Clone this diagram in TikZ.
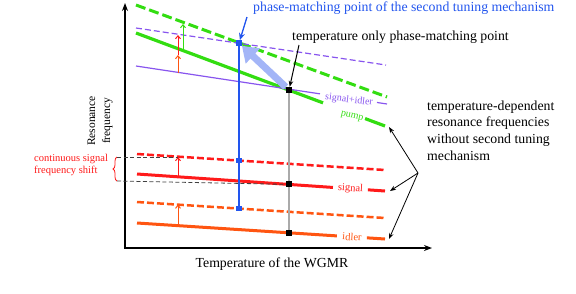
\documentclass[tikz,border=0pt]{standalone}
\usepackage{fontspec}
\setmainfont{Liberation Serif}
\usepackage{tikz}
\usetikzlibrary{arrows.meta,calc,positioning,decorations.pathreplacing}
\definecolor{pumpgreen}{HTML}{33DD11}
\definecolor{sumviolet}{HTML}{8855EE}
\definecolor{sigred}{HTML}{FF1A1A}
\definecolor{idlorange}{HTML}{FF5511}
\definecolor{pmblue}{HTML}{2255EE}
\definecolor{pmlight}{HTML}{A3B5F7}
\definecolor{tgray}{HTML}{AAAAAA}
\tikzset{
  axis/.style={line width=1.3pt,{Stealth[length=8pt,width=6pt]}-{Stealth[length=8pt,width=6pt]}},
  pumpsolid/.style={draw=pumpgreen,line width=3.2pt},
  pumpdash/.style={draw=pumpgreen,line width=3pt,dash pattern=on 10pt off 4pt},
  sumsolid/.style={draw=sumviolet,line width=1.2pt},
  sumdash/.style={draw=sumviolet,line width=1.2pt,dash pattern=on 6pt off 3pt},
  sigsolid/.style={draw=sigred,line width=3pt},
  sigdash/.style={draw=sigred,line width=2.5pt,dash pattern=on 7pt off 3pt},
  idlsolid/.style={draw=idlorange,line width=3pt},
  idldash/.style={draw=idlorange,line width=2.5pt,dash pattern=on 7pt off 3pt},
  bsq/.style={fill=pmblue,minimum size=5.5pt,inner sep=0pt},
  ksq/.style={fill=black,minimum size=6pt,inner sep=0pt},
  shiftarrow/.style={line width=1pt,-{Straight Barb[length=3pt,width=5pt]}},
  guide/.style={draw=black!75,line width=.8pt,dash pattern=on 4pt off 2.5pt},
  lbl/.style={font=\fontsize{10.5}{12.5}\selectfont,inner sep=0pt},
  txt/.style={font=\fontsize{13.8}{16.6}\selectfont,inner sep=0pt},
  note/.style={-{Stealth[length=6pt,width=4.5pt]},line width=.8pt}
}
\begin{document}
\begin{tikzpicture}[x=1pt,y=-1pt]
  \useasboundingbox (0,0) rectangle (576,293);
  % axes
  \draw[axis] (125,3) |- (432,248);
  \node[font=\fontsize{11.5}{15}\selectfont,rotate=90,align=center] (ylabel) at (100,121) {Resonance\\frequency};
  \node[txt] (xlabel) at (272,264) {Temperature of the WGMR};
  % resonance lines
  \coordinate (pumpA) at (136,33); \coordinate (pumpB) at (385,126);
  \coordinate (sumA) at (136,66); \coordinate (sumB) at (387,104);
  \coordinate (sigA) at (137,174); \coordinate (sigB) at (385,191);
  \coordinate (idlA) at (137,223); \coordinate (idlB) at (385,239);
  \draw[pumpdash] (136,5)--(387,97);
  \draw[sumdash] (136,28)--(386,65);
  \draw[sigdash] (137,154)--(385,170);
  \draw[idldash] (137,202)--(385,218);
  \draw[pumpsolid] (pumpA)--($(pumpA)!.751!(pumpB)$) ($(pumpA)!.92!(pumpB)$)--(pumpB);
  \node[lbl,text=pumpgreen,rotate=-13,font=\fontsize{10}{12}\selectfont] (pumplbl) at (352,116.5) {pump};
  \draw[sumsolid] (sumA)--($(sumA)!.733!(sumB)$) ($(sumA)!.96!(sumB)$)--(sumB);
  \node[lbl,text=sumviolet,rotate=-7,font=\fontsize{10}{12}\selectfont] (sumlbl) at (349,100) {signal+idler};
  \draw[sigsolid] (sigA)--($(sigA)!.79!(sigB)$) ($(sigA)!.931!(sigB)$)--(sigB);
  \path (sigA)--(sigB) node[lbl,text=sigred,sloped,pos=.861] (siglbl) {signal};
  \draw[idlsolid] (idlA)--($(idlA)!.806!(idlB)$) ($(idlA)!.927!(idlB)$)--(idlB);
  \path (idlA)--(idlB) node[lbl,text=idlorange,sloped,pos=.867] (idllbl) {idler};
  % shifts
  \draw[shiftarrow,idlorange] (178,73)--(178,55);
  \draw[shiftarrow,sigred] (178,55)--(178,35);
  \draw[shiftarrow,pumpgreen] (183,50)--(183,24);
  \draw[shiftarrow,sigred] (178,177)--(178,157);
  \draw[shiftarrow,idlorange] (178,225.6)--(178,204.6);
  % phase-matching points
  \node[bsq] (pm) at (239,43) {};
  \node[bsq] (pmS) at (239,160.5) {};
  \node[bsq] (pmI) at (239,208.6) {};
  \node[ksq] (tp) at (289,90) {};
  \node[ksq] (tpS) at (289,184.4) {};
  \node[ksq] (tpI) at (289,232.8) {};
  \draw[tgray,line width=1.6pt] (tp)--(tpI);
  \draw[pmblue,line width=1.6pt] (pm)--(pmI);
  % frequency shift
  \draw[decorate,decoration={brace,amplitude=4pt},sigred,line width=.8pt] (117,181)--(117,157);
  \draw[guide] (117,157)--(178,157);
  \draw[guide] (117,181)--(tpS);
  \draw[pmlight,line width=7pt,-{Triangle[length=15pt,width=20pt]}] (tp)--(pm);
  \foreach \p in {pm,pmS,pmI} \node[bsq] at (\p) {};
  \foreach \p in {tp,tpS,tpI} \node[ksq] at (\p) {};
  \node[lbl,text=sigred,align=left,anchor=base west] (shifttext) at (34,173.5) {continuous signal\\frequency shift};
  % notes
  \node[txt,text=pmblue,anchor=base west] (pmtext) at (253,11) {phase-matching point of the second tuning mechanism};
  \coordinate (pmtail) at (247,17);
  \draw[note,pmblue,line width=1.3pt,-{Stealth[length=7pt,width=6pt]}] (pmtail)--(pm);
  \node[txt,anchor=base west] (tptext) at (292,40) {temperature only phase-matching point};
  \coordinate (tptail) at (299,45);
  \draw[note,line width=1pt] (tptail)--(tp);
  \node[txt,align=left,anchor=base west] (tdtext) at (427,160) {temperature-dependent\\resonance frequencies\\without second tuning\\mechanism};
  \coordinate (tdsrc) at (418,173);
  \draw[note] (tdsrc)--(389,127);
  \draw[note] (tdsrc)--(390,191);
  \draw[note] (tdsrc)--(389,239);
\end{tikzpicture}
\end{document}
